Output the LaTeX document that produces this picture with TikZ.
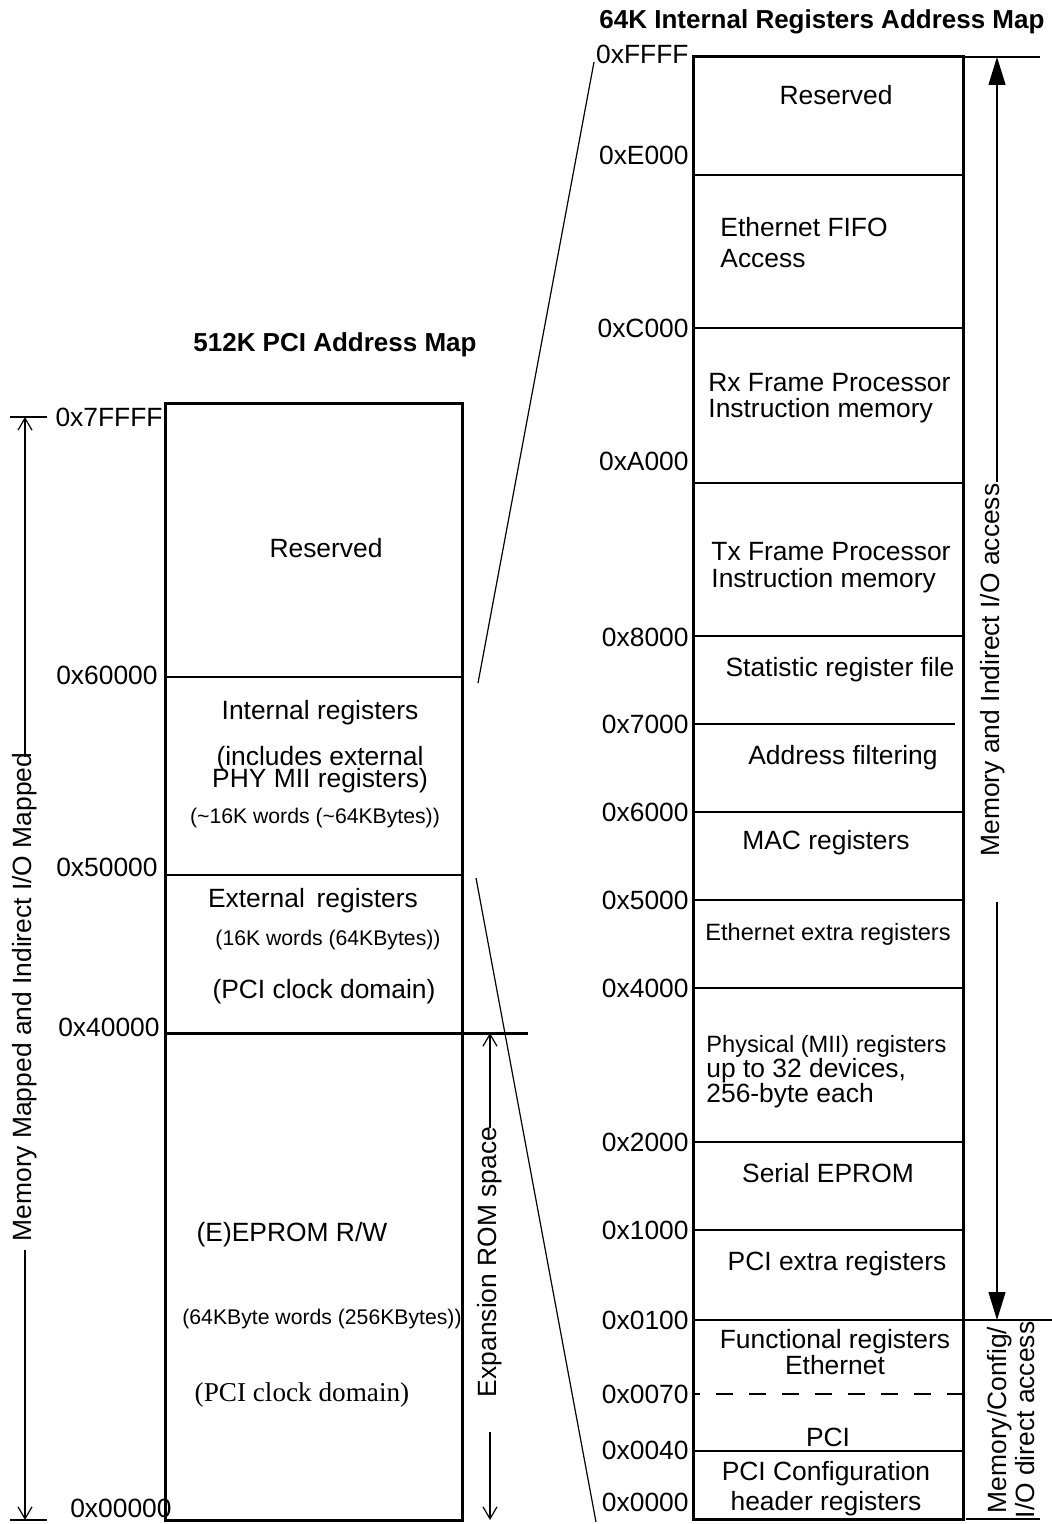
\documentclass[tikz,border=0pt]{standalone}
\usepackage{fontspec}
\setmainfont{Liberation Sans}
\newfontfamily\timesfont{Liberation Serif}
\usepackage{tikz}
\usetikzlibrary{arrows.meta}

\newcommand{\fsz}[2]{\fontsize{#1}{#2}\selectfont\lineskiplimit=-100pt}

\begin{document}
\begin{tikzpicture}[x=0.5pt, y=-0.5pt,
  mapbox/.style={line width=1.5pt},
  sepline/.style={line width=1pt},
  dimline/.style={line width=0.6pt},
  addr/.style={anchor=east, inner sep=0pt, font=\fsz{13.2}{15}},
  txt/.style={inner sep=0pt, font=\fsz{13.2}{15}},
  smalltxt/.style={inner sep=0pt, font=\fsz{10.6}{12}},
  ttl/.style={inner sep=0pt, font=\bfseries\fsz{13}{15}},
  barb/.style={-{Straight Barb[length=6pt,width=7pt]}},
  tri/.style={-{Triangle[length=14pt,width=8.5pt]}}]
  \useasboundingbox (0,0) rectangle (1052,1524);

  %% 512K PCI address map
  \node[ttl] (pcititle) at (335,345) {512K PCI Address Map};
  \draw[mapbox] (165,403) rectangle (462,1520);
  \draw[sepline] (165,677) -- (462,677);
  \draw[sepline] (165,875) -- (462,875);
  \draw[mapbox] (165,1033) -- (528,1033);
  \foreach \xa/\ya/\lbl/\nm in {163/417/0x7FFFF/p7ffff, 158/675/0x60000/p60000,
      158/867/0x50000/p50000, 160/1027/0x40000/p40000, 172/1508/0x00000/p00000}{
    \node[addr] (\nm) at (\xa,\ya) {\lbl};
  }
  \node[txt] (pcires) at (326,548) {Reserved};
  \node[txt] (intreg) at (320,713) {Internal registers};
  \node[txt, align=center, font=\fsz{13.2}{11}] (intphy) at (320,770) {(includes external\\PHY MII registers)};
  \node[smalltxt] (intsize) at (315,818) {(\textasciitilde16K words (\textasciitilde64KBytes))};
  \node[txt] (extreg) at (313,901) {External\,\ registers};
  \node[smalltxt] (extsize) at (328,940) {(16K words (64KBytes))};
  \node[txt] (extclk) at (324,992) {(PCI clock domain)};
  \node[txt] (eeprom) at (292,1235) {(E)EPROM R/W};
  \node[smalltxt] (eepsize) at (322,1319) {(64KByte words (256KBytes))};
  \node[inner sep=0pt, font=\timesfont\fsz{13.6}{15}] (eepclk) at (302,1395) {(PCI clock domain)};

  %% left span arrow
  \coordinate (ltop) at (25,417);
  \coordinate (lbot) at (25,1520);
  \draw[dimline] (10,417) -- (47,417);
  \draw[dimline] (10,1520) -- (47,1520);
  \node[txt, rotate=90] (memmap) at (25,997) {Memory Mapped and Indirect I/O Mapped};
  \draw[dimline, barb] (25,757) -- (ltop);
  \draw[dimline, barb] (25,1250) -- (lbot);

  %% expansion ROM arrow
  \coordinate (etop) at (490,1033);
  \coordinate (ebot) at (490,1520);
  \node[txt, rotate=90] (exprom) at (490,1262) {Expansion ROM space};
  \draw[dimline, barb] (490,1128) -- (etop);
  \draw[dimline, barb] (490,1432) -- (ebot);

  %% zoom lines
  \coordinate (zup1) at (478,683);
  \coordinate (zup2) at (594,62);
  \coordinate (zlo1) at (476,878);
  \coordinate (zlo2) at (596,1522);
  \draw[dimline] (zup1) -- (zup2);
  \draw[dimline] (zlo1) -- (zlo2);

  %% 64K internal registers map
  \node[ttl] (regtitle) at (822,22) {64K Internal Registers Address Map};
  \draw[mapbox] (693,57) rectangle (963,1519);
  \foreach \ya in {175,328,483,636,812,900,988,1142,1230,1320,1451}{
    \draw[sepline] (693,\ya) -- (963,\ya);
  }
  \draw[sepline] (693,724) -- (955,724);
  \draw[sepline, dash pattern=on 8.5pt off 8pt, dash phase=5pt] (693,1394) -- (963,1394);
  \foreach \ya/\lbl/\nm in {54/0xFFFF/rffff, 155/0xE000/re000, 328/0xC000/rc000,
      461/0xA000/ra000, 637/0x8000/r8000, 724/0x7000/r7000, 812/0x6000/r6000,
      900/0x5000/r5000, 988/0x4000/r4000, 1142/0x2000/r2000, 1230/0x1000/r1000,
      1320/0x0100/r0100, 1394/0x0070/r0070, 1450/0x0040/r0040, 1502/0x0000/r0000}{
    \node[addr] (\nm) at (689,\ya) {\lbl};
  }
  \node[txt] (regres) at (836,95) {Reserved};
  \node[txt, anchor=west, align=left, font=\fsz{13.2}{15.5}] (fifo) at (720,243) {Ethernet FIFO\\Access};
  \node[txt, anchor=west, align=left, font=\fsz{13.2}{13}] (rxfp) at (708,398) {Rx Frame Processor\\Instruction memory};
  \node[txt, anchor=west, align=left, font=\fsz{13.2}{13.5}] (txfp) at (711,568) {Tx Frame Processor\\Instruction memory};
  \node[txt] (stats) at (840,670) {Statistic register file};
  \node[txt] (addrf) at (843,758) {Address filtering};
  \node[txt] (macreg) at (826,843) {MAC registers};
  \node[inner sep=0pt, font=\fsz{11.8}{13}] (ethx) at (828,934) {Ethernet extra registers};
  \node[txt, anchor=west, align=left, font=\fsz{13.2}{12.5}] (phys) at (706,1072)
    {{\fsz{11.8}{13}Physical (MII) registers}\\up to 32 devices,\\256-byte each};
  \node[txt] (seprom) at (828,1173) {Serial EPROM};
  \node[txt] (pcix) at (837,1264) {PCI extra registers};
  \node[txt, align=center, font=\fsz{13.2}{13}] (funcreg) at (835,1352) {Functional registers\\Ethernet};
  \node[txt] (pcifn) at (828,1437) {PCI};
  \node[txt, align=center, font=\fsz{13.2}{15}] (pcicfg) at (826,1489) {PCI Configuration\\header registers};

  %% right span arrows
  \coordinate (rtop) at (997,57);
  \coordinate (rmid) at (997,1320);
  \draw[dimline] (963,57) -- (1040,57);
  \draw[dimline] (963,1320) -- (1052,1320);
  \draw[dimline] (966,1519) -- (1040,1519);
  \node[txt, rotate=90] (memind) at (993,670) {Memory and Indirect I/O access};
  \draw[dimline, tri] (997,482) -- (rtop);
  \draw[dimline, tri] (997,902) -- (rmid);
  \node[txt, rotate=90, align=center, font=\fsz{13.2}{14}] (cfgacc) at (1011,1420) {Memory/Config/\\I/O direct access};
\end{tikzpicture}
\end{document}
